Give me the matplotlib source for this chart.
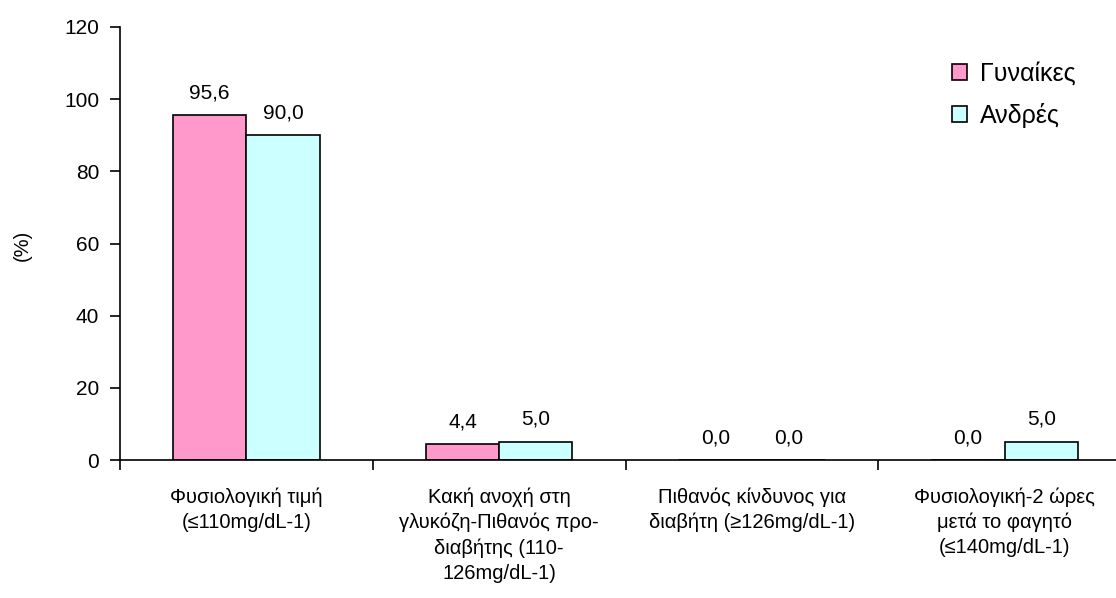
import matplotlib
matplotlib.use("Agg")
import matplotlib.pyplot as plt
import numpy as np

plt.rcParams['font.family'] = ['Liberation Sans', 'DejaVu Sans']

categories = [
    "Φυσιολογική τιμή\n(≤110mg/dL-1)",
    "Κακή ανοχή στη\nγλυκόζη-Πιθανός προ-\nδιαβήτης (110-\n126mg/dL-1)",
    "Πιθανός κίνδυνος για\nδιαβήτη (≥126mg/dL-1)",
    "Φυσιολογική-2 ώρες\nμετά το φαγητό\n(≤140mg/dL-1)",
]
women = [95.6, 4.4, 0.0, 0.0]
men = [90.0, 5.0, 0.0, 5.0]
series_names = ["Γυναίκες", "Ανδρές"]
yticks = [0, 20, 40, 60, 80, 100, 120]

W, H = 1116, 598
fig = plt.figure(figsize=(W / 100, H / 100), dpi=100)
ax = fig.add_axes([120 / W, 1 - 460 / H, (1131 - 120) / W, (460 - 27) / H])

x = np.arange(len(categories))
bw = 0.29
b1 = ax.bar(x - bw / 2, women, bw, color="#FF99CC", edgecolor="black", linewidth=1.2, label=series_names[0])
b2 = ax.bar(x + bw / 2, men, bw, color="#CCFFFF", edgecolor="black", linewidth=1.2, label=series_names[1])

for bars, vals in ((b1, women), (b2, men)):
    for r, v in zip(bars, vals):
        ax.text(r.get_x() + r.get_width() / 2, v + 3.6, f"{v:.1f}".replace(".", ","),
                ha="center", va="bottom", fontsize=15)

ax.set_xlim(-0.5, len(categories) - 0.5)
ax.set_ylim(0, 120)
ax.set_yticks(yticks)
ax.tick_params(axis="y", labelsize=15, length=7, width=1.2, direction="out", pad=8)
ax.set_xticks(np.arange(len(categories) + 1) - 0.5)
ax.set_xticklabels([])
ax.tick_params(axis="x", length=7, width=1.2, direction="out")
for i, c in enumerate(categories):
    ax.text(i, -0.063, c, transform=ax.get_xaxis_transform(), ha="center", va="top",
            fontsize=14.5, linespacing=1.4)

ax.spines["top"].set_visible(False)
ax.spines["right"].set_visible(False)
ax.spines["left"].set_linewidth(1.2)
ax.spines["bottom"].set_linewidth(1.2)
fig.text(22 / W, 1 - 245 / H, "(%)", rotation=90, ha="center", va="center", fontsize=14.5)

ax.legend(loc="upper left", bbox_to_anchor=(929 / W, 1 - 39 / H), bbox_transform=fig.transFigure,
          frameon=False, fontsize=18, handlelength=0.6, handleheight=0.6, handletextpad=0.55,
          labelspacing=0.7)

fig.savefig("out.png", dpi=100)
